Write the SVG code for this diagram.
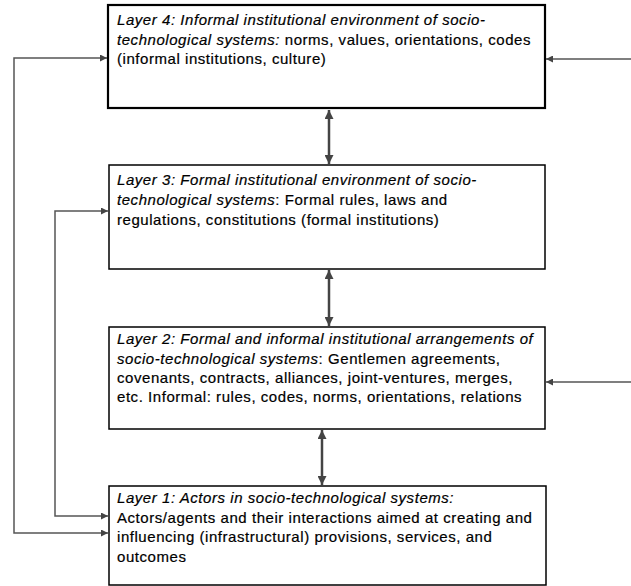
<svg xmlns="http://www.w3.org/2000/svg" width="631" height="586" viewBox="0 0 631 586">
<style>
.box{fill:#fff;stroke:#000;stroke-width:1.5}
.b4{stroke-width:2.2}
text{font-family:"Liberation Sans",Arial,sans-serif;font-size:15px;letter-spacing:0.55px;fill:#000;stroke:#000;stroke-width:0.2}
.i{font-style:italic}
.c{fill:none;stroke:#555;stroke-width:1.5}
.v{fill:none;stroke:#444;stroke-width:2.5}
</style>
<defs>
<marker id="ah" viewBox="0 0 10 10" refX="10" refY="5" markerWidth="9" markerHeight="7" orient="auto-start-reverse" markerUnits="userSpaceOnUse">
<path d="M0,0 L10,5 L0,10 Z" fill="#444"/>
</marker>
<marker id="av" viewBox="0 0 10 10" refX="10" refY="5" markerWidth="11" markerHeight="9" orient="auto-start-reverse" markerUnits="userSpaceOnUse">
<path d="M0,0 L10,5 L0,10 Z" fill="#444"/>
</marker>
</defs>
<g id="connectors">
<path class="c" d="M107,58 H14 V533 H108" marker-start="url(#ah)" marker-end="url(#ah)"/>
<path class="c" d="M108,211 H55 V516 H108" marker-start="url(#ah)" marker-end="url(#ah)"/>
<path class="c" d="M631,59 H546" marker-end="url(#ah)"/>
<path class="c" d="M631,382 H546" marker-end="url(#ah)"/>
<path class="v" d="M329,110 V164" marker-start="url(#av)" marker-end="url(#av)"/>
<path class="v" d="M329,270 V326" marker-start="url(#av)" marker-end="url(#av)"/>
<path class="v" d="M322,430 V485" marker-start="url(#av)" marker-end="url(#av)"/>
</g>
<g id="layer4">
<rect class="box b4" x="108" y="5" width="437" height="103"/>
<text x="117" y="25"><tspan class="i">Layer 4: Informal institutional environment of socio-</tspan></text>
<text x="117" y="45"><tspan class="i">technological systems:</tspan> norms, values, orientations, codes</text>
<text x="117" y="64">(informal institutions, culture)</text>
</g>
<g id="layer3">
<rect class="box" x="109" y="165" width="436" height="104"/>
<text x="117" y="185"><tspan class="i">Layer 3: Formal institutional environment of socio-</tspan></text>
<text x="117" y="205"><tspan class="i">technological systems</tspan>: Formal rules, laws and</text>
<text x="117" y="225">regulations, constitutions (formal institutions)</text>
</g>
<g id="layer2">
<rect class="box" x="109" y="327" width="436" height="102"/>
<text x="117" y="344"><tspan class="i">Layer 2: Formal and informal institutional arrangements of</tspan></text>
<text x="117" y="364"><tspan class="i">socio-technological systems</tspan>: Gentlemen agreements,</text>
<text x="117" y="383">covenants, contracts, alliances, joint-ventures, merges,</text>
<text x="117" y="402">etc. Informal: rules, codes, norms, orientations, relations</text>
</g>
<g id="layer1">
<rect class="box" x="109" y="486" width="437" height="99"/>
<text x="117" y="503"><tspan class="i">Layer 1: Actors in socio-technological systems:</tspan></text>
<text x="117" y="523">Actors/agents and their interactions aimed at creating and</text>
<text x="117" y="542">influencing (infrastructural) provisions, services, and</text>
<text x="117" y="562">outcomes</text>
</g>
</svg>
